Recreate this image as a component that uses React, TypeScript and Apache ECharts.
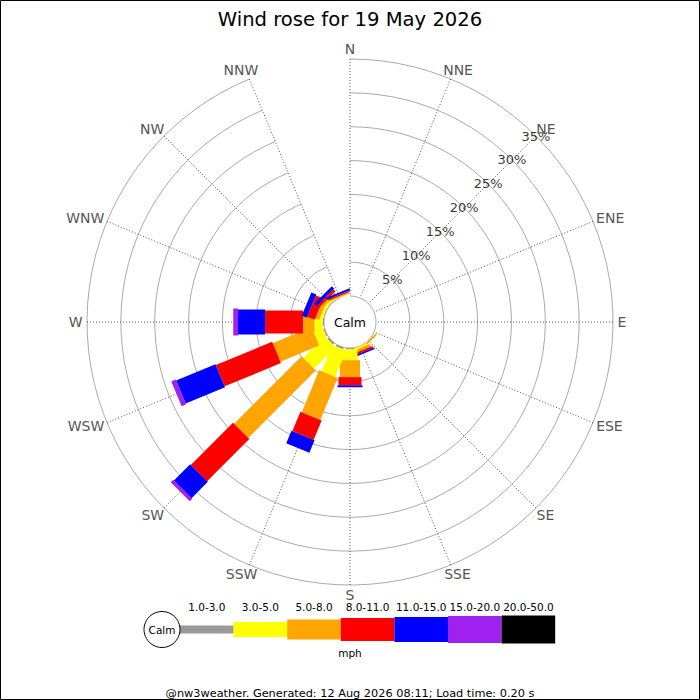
import React, { useEffect, useRef } from "react";
import * as echarts from "echarts";

// ---------- data ----------
const directions = ["N", "NNE", "NE", "ENE", "E", "ESE", "SE", "SSE", "S", "SSW", "SW", "WSW", "W", "WNW", "NW", "NNW"];
const speedBins = ["1.0-3.0", "3.0-5.0", "5.0-8.0", "8.0-11.0", "11.0-15.0", "15.0-20.0", "20.0-50.0"];
const binColors = ["#999999", "#ffff00", "#ffa500", "#ff0000", "#0000ff", "#a020f0", "#000000"];
// percentage of time per direction (N..NNW) for each speed bin (mph)
const bin1to3 = [0, 0, 0, 0, 0, 0, 0, 0, 0.2, 0.3, 0.3, 0.2, 0.2, 0.1, 0.1, 0];
const bin3to5 = [0, 0, 0, 0, 0, 0, 0.05, 0.3, 1.6, 4.2, 4.5, 1.5, 1.2, 0.4, 0.4, 0.1];
const bin5to8 = [0, 0, 0, 0, 0, 0, 0.25, 0.4, 2.5, 6.7, 14.1, 6.2, 1.7, 0.6, 0.4, 0.2];
const bin8to11 = [0, 0, 0, 0, 0, 0, 0, 0.3, 1.2, 3.1, 8.8, 9.0, 5.6, 1.2, 0.4, 0.2];
const bin11to15 = [0, 0, 0, 0, 0, 0, 0, 0.25, 0.3, 2.0, 3.4, 6.3, 4.0, 0.8, 0.5, 0.3];
const bin15to20 = [0, 0, 0, 0, 0, 0, 0, 0, 0, 0, 0.5, 0.7, 0.7, 0, 0, 0];
const bin20to50 = [0, 0, 0, 0, 0, 0, 0, 0, 0, 0, 0, 0, 0, 0, 0, 0];
const ringTicks = [5, 10, 15, 20, 25, 30, 35];
const titleText = "Wind rose for 19 May 2026";
const footerText = "@nw3weather. Generated: 12 Aug 2026 08:11; Load time: 0.20 s";
const unitText = "mph";

// ---------- styles / layout ----------
const FONT = "DejaVu Sans";
const CX = 350;
const CY = 322;
const R_IN = 26;
const R_OUT = 263;
const RMAX = 35;
const DIR_FONT = 14;
const binWidths = [8, 15, 20, 23, 25, 27, 28];
const bins = [bin1to3, bin3to5, bin5to8, bin8to11, bin11to15, bin15to20, bin20to50];

function measure(text: string, size: number): number {
  try {
    const c = document.createElement("canvas");
    const ctx = c.getContext("2d");
    if (ctx) {
      ctx.font = `${size}px "${FONT}"`;
      return ctx.measureText(text).width;
    }
  } catch (e) {
    /* ignore */
  }
  return text.length * size * 0.7;
}

export default function App() {
  const ref = useRef<HTMLDivElement>(null);

  useEffect(() => {
    if (!ref.current) return;
    const chart = echarts.init(ref.current, null, { renderer: "svg", width: 700, height: 700 });

    // stacked segments: [dirIndex, start, end, binIndex]
    const segs: number[][] = [];
    directions.forEach((_, d) => {
      let acc = 0;
      bins.forEach((arr, b) => {
        const v = arr[d];
        if (v > 0) {
          segs.push([d, acc, acc + v, b]);
          acc += v;
        }
      });
    });

    const dirWidths = directions.map((t) => measure(t, DIR_FONT));

    const legendX0 = 180;
    const legendW = 53.6;
    const legendY = 629.5;
    const legendGraphics: any[] = [];
    speedBins.forEach((lab, i) => {
      const h = binWidths[i];
      legendGraphics.push({
        type: "rect",
        shape: { x: legendX0 + i * legendW, y: legendY - h / 2, width: legendW, height: h },
        style: { fill: binColors[i] },
      });
      legendGraphics.push({
        type: "text",
        x: legendX0 + i * legendW + legendW / 2,
        y: 607,
        style: { text: lab, align: "center", verticalAlign: "middle", fontSize: 10.5, fontFamily: FONT, fill: "#000" },
      });
    });

    const unitDir = (api: any, d: number) => {
      const a = api.coord([0, d]);
      const b = api.coord([RMAX, d]);
      const len = Math.hypot(b[0] - a[0], b[1] - a[1]) || 1;
      return { ux: (b[0] - a[0]) / len, uy: (b[1] - a[1]) / len, b };
    };

    const option: any = {
      animation: false,
      backgroundColor: "#ffffff",
      title: {
        text: titleText,
        left: "center",
        top: 4,
        textStyle: { fontFamily: FONT, fontSize: 19.6, fontWeight: "normal", color: "#000" },
      },
      polar: { center: [CX, CY], radius: [R_IN, R_OUT] },
      angleAxis: {
        type: "category",
        data: directions,
        boundaryGap: false,
        startAngle: 90,
        clockwise: true,
        axisLine: { show: false },
        axisTick: { show: false },
        axisLabel: { show: false },
        splitLine: { show: true, lineStyle: { color: "#555", type: [1, 2], width: 1 } },
        z: 1,
      },
      radiusAxis: {
        type: "value",
        min: 0,
        max: RMAX,
        interval: 5,
        axisLine: { show: false },
        axisTick: { show: false },
        axisLabel: { show: false },
        splitLine: { show: true, lineStyle: { color: "#aaaaaa", width: 1, type: "solid" } },
        z: 1,
      },
      series: [
        {
          type: "custom",
          coordinateSystem: "polar",
          encode: { angle: 0, radius: [1, 2] },
          data: segs,
          silent: true,
          z: 5,
          renderItem: (params: any, api: any) => {
            const item = segs[params.dataIndex];
            const d = item[0];
            const { ux, uy } = unitDir(api, d);
            const nx = -uy;
            const ny = ux;
            const p0 = api.coord([item[1], d]);
            const p1 = api.coord([item[2], d]);
            const hw = binWidths[item[3]] / 2;
            return {
              type: "polygon",
              shape: {
                points: [
                  [p0[0] + nx * hw, p0[1] + ny * hw],
                  [p1[0] + nx * hw, p1[1] + ny * hw],
                  [p1[0] - nx * hw, p1[1] - ny * hw],
                  [p0[0] - nx * hw, p0[1] - ny * hw],
                ],
              },
              style: { fill: binColors[item[3]], stroke: null },
            };
          },
        },
        {
          // compass direction labels
          type: "custom",
          coordinateSystem: "polar",
          encode: { angle: 0, radius: 1 },
          data: directions.map((_, i) => [i, RMAX]),
          silent: true,
          z: 6,
          renderItem: (params: any, api: any) => {
            const d = params.dataIndex;
            const { ux, uy, b } = unitDir(api, d);
            const w = dirWidths[d];
            const h = 11;
            const m = 4.5;
            const x = b[0] + ux * m + (ux * w) / 2;
            const y = b[1] + uy * m + (uy * h) / 2;
            return {
              type: "text",
              x,
              y,
              style: {
                text: directions[d],
                align: "center",
                verticalAlign: "middle",
                fontSize: DIR_FONT,
                fontFamily: FONT,
                fill: "#555",
              },
            };
          },
        },
        {
          type: "scatter",
          coordinateSystem: "polar",
          symbolSize: 0,
          silent: true,
          z: 10,
          data: ringTicks.map((v) => [v, "NE"]),
          label: {
            show: true,
            position: "inside",
            formatter: (p: any) => p.value[0] + "%",
            color: "#000",
            fontSize: 13,
            fontFamily: FONT,
          },
        },
      ],
      graphic: [
        {
          type: "rect",
          shape: { x: 0.5, y: 0.5, width: 699, height: 699 },
          style: { fill: "none", stroke: "#000", lineWidth: 1 },
          silent: true,
        },
        {
          type: "text",
          x: CX,
          y: CY,
          z: 20,
          style: { text: "Calm", align: "center", verticalAlign: "middle", fontSize: 12.5, fontFamily: FONT, fill: "#000" },
        },
        {
          type: "rect",
          shape: { x: legendX0 - 2, y: legendY - 4, width: 4, height: 8 },
          style: { fill: binColors[0] },
        },
        ...legendGraphics,
        {
          type: "circle",
          shape: { cx: 162, cy: legendY, r: 18 },
          style: { fill: "#fff", stroke: "#000", lineWidth: 1 },
        },
        {
          type: "text",
          x: 162,
          y: legendY,
          style: { text: "Calm", align: "center", verticalAlign: "middle", fontSize: 10.5, fontFamily: FONT, fill: "#000" },
        },
        {
          type: "text",
          x: CX,
          y: 653,
          style: { text: unitText, align: "center", verticalAlign: "middle", fontSize: 10.5, fontFamily: FONT, fill: "#000" },
        },
        {
          type: "text",
          x: CX,
          y: 693,
          style: { text: footerText, align: "center", verticalAlign: "middle", fontSize: 11.3, fontFamily: FONT, fill: "#000" },
        },
      ],
    };

    chart.setOption(option);
    return () => chart.dispose();
  }, []);

  return <div ref={ref} style={{ position: "fixed", left: 0, top: 0, width: 700, height: 700 }} />;
}
